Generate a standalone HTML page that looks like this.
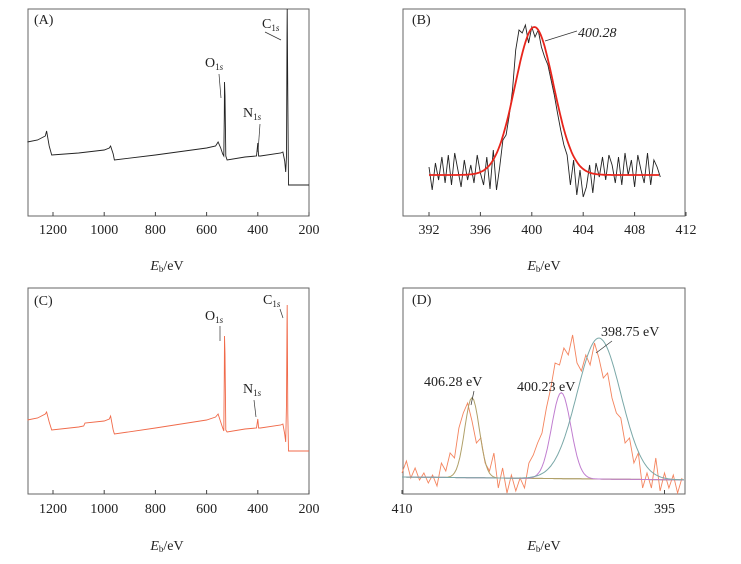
<!DOCTYPE html>
<html><head><meta charset="utf-8">
<style>
body{margin:0;background:#fff;}
svg{display:block;font-family:"Liberation Serif",serif;}
text{font-size:14px;fill:#222;}
</style></head>
<body>
<svg id="s" width="741" height="564">
  <g>
    <rect x="28" y="9" width="281" height="207" fill="none" stroke="#666" stroke-width="1"/>
    <g id="ticksA"></g>
    <path id="lineA" fill="none" stroke="#222" stroke-width="0.9"/>
    <text x="34" y="24">(A)</text>
    <text x="262" y="28">C<tspan font-size="9" dy="3">1<tspan font-style="italic">s</tspan></tspan></text>
    <line x1="265" y1="32" x2="281" y2="40" stroke="#333" stroke-width="0.7"/>
    <text x="205" y="67">O<tspan font-size="9" dy="3">1<tspan font-style="italic">s</tspan></tspan></text>
    <line x1="219" y1="74" x2="221" y2="98" stroke="#333" stroke-width="0.7"/>
    <text x="243" y="117">N<tspan font-size="9" dy="3">1<tspan font-style="italic">s</tspan></tspan></text>
    <line x1="260" y1="124" x2="258" y2="152" stroke="#333" stroke-width="0.7"/>
    <text x="167" y="270" text-anchor="middle"><tspan font-style="italic">E</tspan><tspan font-size="9" dy="2">b</tspan><tspan dy="-2">/eV</tspan></text>
  </g>
  <g>
    <rect x="403" y="9" width="282" height="207" fill="none" stroke="#666" stroke-width="1"/>
    <g id="ticksB"></g>
    <path id="lineB" fill="none" stroke="#222" stroke-width="0.9"/>
    <path id="fitB" fill="none" stroke="#e8251c" stroke-width="1.8"/>
    <text x="412" y="24">(B)</text>
    <text x="578" y="37" font-style="italic">400.28</text>
    <line x1="577" y1="31" x2="545" y2="41" stroke="#333" stroke-width="0.7"/>
    <text x="544" y="270" text-anchor="middle"><tspan font-style="italic">E</tspan><tspan font-size="9" dy="2">b</tspan><tspan dy="-2">/eV</tspan></text>
  </g>
  <g>
    <rect x="28" y="288" width="281" height="206" fill="none" stroke="#666" stroke-width="1"/>
    <g id="ticksC"></g>
    <path id="lineC" fill="none" stroke="#f06a4a" stroke-width="0.9"/>
    <text x="34" y="305">(C)</text>
    <text x="263" y="304">C<tspan font-size="9" dy="3">1<tspan font-style="italic">s</tspan></tspan></text>
    <line x1="280" y1="309" x2="283" y2="318" stroke="#333" stroke-width="0.7"/>
    <text x="205" y="320">O<tspan font-size="9" dy="3">1<tspan font-style="italic">s</tspan></tspan></text>
    <line x1="220" y1="326" x2="220" y2="341" stroke="#333" stroke-width="0.7"/>
    <text x="243" y="393">N<tspan font-size="9" dy="3">1<tspan font-style="italic">s</tspan></tspan></text>
    <line x1="254" y1="400" x2="256" y2="417" stroke="#333" stroke-width="0.7"/>
    <text x="167" y="550" text-anchor="middle"><tspan font-style="italic">E</tspan><tspan font-size="9" dy="2">b</tspan><tspan dy="-2">/eV</tspan></text>
  </g>
  <g>
    <rect x="403" y="288" width="282" height="206" fill="none" stroke="#666" stroke-width="1"/>
    <g id="ticksD"></g>
    <path id="lineD" fill="none" stroke="#f4845e" stroke-width="0.9"/>
    <path id="baseD" fill="none" stroke="#a89a6a" stroke-width="1"/>
    <path id="fitD1" fill="none" stroke="#b0a068" stroke-width="1"/>
    <path id="fitD2" fill="none" stroke="#c07ed0" stroke-width="1"/>
    <path id="fitD3" fill="none" stroke="#7aa8a8" stroke-width="1"/>
    <text x="412" y="304">(D)</text>
    <text x="424" y="386">406.28 eV</text>
    <line x1="474" y1="391" x2="471" y2="405" stroke="#333" stroke-width="0.7"/>
    <text x="517" y="391">400.23 eV</text>
    <text x="601" y="336">398.75 eV</text>
    <line x1="612" y1="341" x2="596" y2="353" stroke="#333" stroke-width="0.7"/>
    <text x="544" y="550" text-anchor="middle"><tspan font-style="italic">E</tspan><tspan font-size="9" dy="2">b</tspan><tspan dy="-2">/eV</tspan></text>
  </g>
</svg>
<script>
const surveyAx = [1300,1260,1230,1225,1215,1205,1100,1000,980,975,965,960,800,600,565,555,545,537,533,531,530,528,525,520,450,405,400,397,390,310,302,295,291,288,286,285,283,280,200];
const surveyAv = [74,76,80,85,70,61,63,66,68,70,62,56,61,68,70,74,68,62,60,100,134,120,60,56,59,60,73,60,60,63,64,55,44,60,180,207,120,31,31];
const surveyCx = [1300,1260,1230,1225,1215,1205,1100,1080,1075,1000,980,975,965,960,800,600,565,555,545,537,533,531,530,528,525,520,450,405,400,397,390,310,302,295,291,288,286,285,283,280,200];
const surveyCv = [74,76,80,82,72,64,67,68,71,73,75,78,64,60,66,74,77,80,72,66,63,120,158,140,64,62,65,66,75,66,66,69,70,60,52,90,170,189,80,43,43];
const bEnergy = [];
for (let i=0;i<=72;i++) bEnergy.push(392+i*0.25);
const bCounts = [8,-15,12,-5,18,-8,20,-10,22,5,-12,15,-5,10,-8,20,2,-10,18,-14,25,-15,8,35,40,60,85,125,145,142,150,132,148,138,145,128,118,110,95,80,62,45,30,20,-10,15,-20,5,-22,-12,10,-18,12,-2,18,-5,20,10,-8,18,-10,22,0,15,-12,20,5,-8,22,-10,15,8,-2];
const bFitCenter = [400.2];
const bFitAmp = [148];
const bFitSigma = [1.5];
const dEnergy = [];
for (let i=0;i<=64;i++) dEnergy.push(410-i*0.25);
const dCounts = [10,22,5,15,3,10,0,8,-3,20,12,30,25,55,70,80,62,40,45,20,12,30,-5,15,-10,8,-8,5,-5,20,28,40,50,75,95,120,118,135,128,148,120,112,128,118,140,125,105,110,85,70,65,40,45,20,30,-5,10,-5,25,-8,10,-5,8,-10,5];
const dPeakCenter = [406.0, 400.9, 398.75];
const dPeakAmp = [80, 86, 141];
const dPeakSigma = [0.42, 0.55, 1.25];
const tickA = [1200,1000,800,600,400,200];
const tickB = [392,396,400,404,408,412];
const tickD = [410,395];

const NS='http://www.w3.org/2000/svg';
const xA = v=>53+(1200-v)*0.256;
const yA = v=>216-v, yC = v=>494-v;
const xB = v=>429+(v-392)*12.85, yB = v=>175-v;
const xD = v=>402+(410-v)*17.5, yD = v=>483-v;
function pathOf(xs,ys,fx,fy){return xs.map((x,i)=>(i?'L':'M')+fx(x).toFixed(1)+' '+fy(ys[i]).toFixed(1)).join(' ');}
function gauss(e,c,a,s){return a*Math.exp(-0.5*((e-c)/s)**2);}
document.getElementById('lineA').setAttribute('d',pathOf(surveyAx,surveyAv,xA,yA));
document.getElementById('lineC').setAttribute('d',pathOf(surveyCx,surveyCv,xA,yC));
document.getElementById('lineB').setAttribute('d',pathOf(bEnergy,bCounts,xB,yB));
const fineB=[];for(let e=392;e<=410;e+=0.1)fineB.push(e);
document.getElementById('fitB').setAttribute('d',pathOf(fineB,fineB.map(e=>gauss(e,bFitCenter[0],bFitAmp[0],bFitSigma[0])),xB,yB));
document.getElementById('lineD').setAttribute('d',pathOf(dEnergy,dCounts,xD,yD));
const fineD=[];for(let e=410;e>=393.85;e-=0.1)fineD.push(e);
const baseD=e=>6-(410-e)*0.18;
document.getElementById('baseD').setAttribute('d',pathOf(fineD,fineD.map(baseD),xD,yD));
['fitD1','fitD2','fitD3'].forEach((id,k)=>{
  document.getElementById(id).setAttribute('d',pathOf(fineD,fineD.map(e=>baseD(e)+gauss(e,dPeakCenter[k],dPeakAmp[k],dPeakSigma[k])),xD,yD));
});
function ticks(gid,vals,fx,yb,ylab){
  const g=document.getElementById(gid);
  vals.forEach(v=>{
    const x=fx(v);
    const l=document.createElementNS(NS,'line');
    l.setAttribute('x1',x);l.setAttribute('x2',x);l.setAttribute('y1',yb);l.setAttribute('y2',yb-4);
    l.setAttribute('stroke','#444');
    
    
    g.appendChild(l);
    const t=document.createElementNS(NS,'text');
    t.setAttribute('x',x);t.setAttribute('y',ylab);t.setAttribute('text-anchor','middle');
    t.textContent=v;
    
    
    g.appendChild(t);
  });
}
ticks('ticksA',tickA,xA,216,234);
ticks('ticksC',tickA,xA,494,513);
ticks('ticksB',tickB,xB,216,234);
ticks('ticksD',tickD,xD,494,513);
</script>
</body></html>
